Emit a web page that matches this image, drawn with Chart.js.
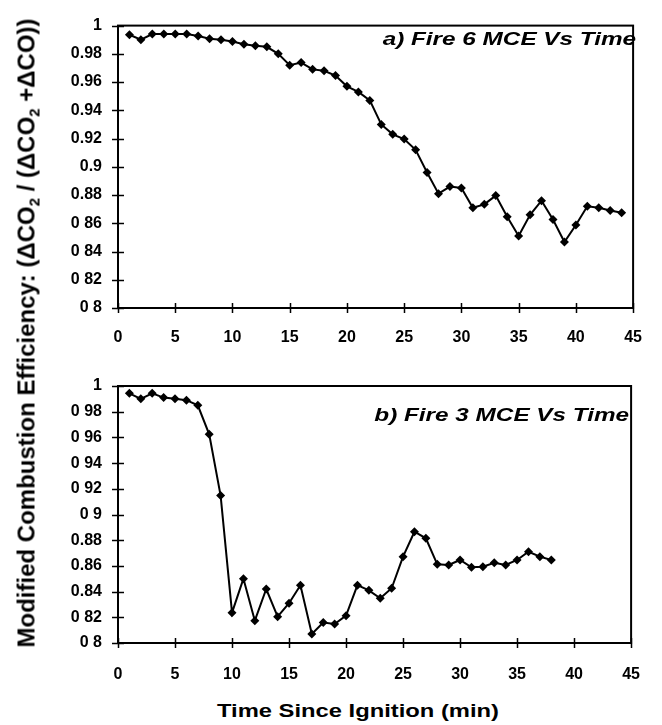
<!DOCTYPE html>
<html>
<head>
<meta charset="utf-8">
<script src="https://cdn.jsdelivr.net/npm/chart.js@4.4.1/dist/chart.umd.min.js"></script>
<style>
  html, body { margin: 0; padding: 0; background: #fff; }
  #wrap { position: relative; width: 662px; height: 725px; overflow: hidden; background: #fff; }
  canvas { position: absolute; left: 0; }
  #c1 { top: 0; }
  #c2 { top: 360px; }
  #ytitle {
    position: absolute; left: 27.5px; top: 333px;
    transform: translate(-50%, -50%) rotate(-90deg);
    white-space: nowrap; font: bold 24px "Liberation Sans", Arial, sans-serif;
    line-height: 24px; color: #000;
  }
  #ytitle span.sub { font-size: 15px; position: relative; top: 5px; }
  #xtitle {
    position: absolute; left: 158px; width: 400px; top: 702px; text-align: center;
    transform: scaleX(1.32); transform-origin: center;
    white-space: nowrap; font: bold 18px "Liberation Sans", Arial, sans-serif;
    line-height: 18px; color: #000;
  }
</style>
</head>
<body>
<div id="wrap">
  <canvas id="c1" width="662" height="345"></canvas>
  <canvas id="c2" width="662" height="320"></canvas>
  <div id="ytitle">Modified Combustion Efficiency: (ΔCO<span class="sub">2</span> / (ΔCO<span class="sub">2</span> +ΔCO))</div>
  <div id="xtitle">Time Since Ignition (min)</div>
</div>
<script>
// ---- data ----
const fire6Time = [1,2,3,4,5,6,7,8,9,10,11,12,13,14,15,16,17,18,19,20,21,22,23,24,25,26,27,28,29,30,31,32,33,34,35,36,37,38,39,40,41,42,43,44];
const fire6MCE = [0.9935,0.990,0.994,0.994,0.994,0.994,0.9926,0.9907,0.990,0.9887,0.9868,0.9857,0.985,0.980,0.972,0.9738,0.969,0.968,0.9646,0.957,0.953,0.947,0.930,0.923,0.9197,0.912,0.896,0.881,0.886,0.885,0.871,0.8734,0.8796,0.8646,0.851,0.866,0.876,0.8627,0.8467,0.8588,0.872,0.871,0.869,0.8674];
const fire3Time = [1,2,3,4,5,6,7,8,9,10,11,12,13,14,15,16,17,18,19,20,21,22,23,24,25,26,27,28,29,30,31,32,33,34,35,36,37,38];
const fire3MCE = [0.9943,0.990,0.9943,0.991,0.990,0.989,0.985,0.9624,0.9147,0.8236,0.850,0.8174,0.842,0.8205,0.831,0.845,0.807,0.816,0.8148,0.8213,0.845,0.841,0.8348,0.8426,0.8672,0.8866,0.8815,0.8612,0.8607,0.8646,0.8589,0.8594,0.8625,0.8607,0.8646,0.871,0.8672,0.8646];
const xTickLabels = ['0','5','10','15','20','25','30','35','40','45'];
const yTickLabelsA = ['0 8','0 82','0 84','0 86','0.88','0.9','0.92','0.94','0.96','0.98','1'];
const yTickLabelsB = ['0 8','0 82','0.84','0.86','0.88','0 9','0 92','0 94','0 96','0 98','1'];
const panelTitleA = 'a) Fire 6 MCE Vs Time';
const panelTitleB = 'b) Fire 3 MCE Vs Time';

const FONT = '"Liberation Sans", Arial, sans-serif';

const framePlugin = {
  id: 'frame',
  afterDraw(chart, args, opts) {
    const ctx = chart.ctx, a = chart.chartArea;
    const xs = chart.scales.x, ys = chart.scales.y;
    ctx.save();
    ctx.strokeStyle = '#000';
    ctx.lineWidth = 2;
    ctx.strokeRect(a.left, a.top, a.right - a.left, a.bottom - a.top);
    ctx.lineWidth = 1.5;
    ctx.beginPath();
    ys.ticks.forEach(t => {
      const y = Math.round(ys.getPixelForValue(t.value)) + 0.5;
      ctx.moveTo(a.left - 6, y); ctx.lineTo(a.left + 6, y);
    });
    xs.ticks.forEach(t => {
      const x = Math.round(xs.getPixelForValue(t.value)) + 0.5;
      ctx.moveTo(x, a.bottom - 5); ctx.lineTo(x, a.bottom + 5);
    });
    ctx.stroke();
    // panel label
    ctx.fillStyle = '#000';
    ctx.font = 'italic bold 18px ' + FONT;
    ctx.textAlign = 'right';
    ctx.textBaseline = 'alphabetic';
    ctx.translate(a.right - opts.dx, opts.baseline);
    ctx.scale(1.35, 1);
    ctx.fillText(opts.text, 0, 0);
    ctx.restore();
  }
};

function makeChart(id, times, values, yLabels, labelText, top, xPad, labelDx, labelBaseline) {
  const ctx = document.getElementById(id).getContext('2d');
  return new Chart(ctx, {
    type: 'line',
    data: {
      datasets: [{
        data: times.map((t, i) => ({ x: t, y: values[i] })),
        borderColor: '#000',
        backgroundColor: '#000',
        borderWidth: 2,
        pointStyle: 'rectRot',
        pointRadius: 4.5,
        pointBorderWidth: 0,
        pointBackgroundColor: '#000',
        tension: 0,
        fill: false,
        clip: false
      }]
    },
    options: {
      responsive: false,
      animation: false,
      devicePixelRatio: 1,
      events: [],
      layout: { padding: { left: 0, right: 20, top: top, bottom: 0 } },
      plugins: {
        legend: { display: false },
        tooltip: { enabled: false },
        frame: { text: labelText, dx: labelDx, baseline: labelBaseline }
      },
      scales: {
        x: {
          type: 'linear', min: 0, max: 45,
          grid: { display: false, drawTicks: false },
          border: { display: false },
          ticks: {
            stepSize: 5, padding: xPad, color: '#000',
            font: { family: FONT, size: 16, weight: 'bold' },
            maxRotation: 0,
            callback: (v, i) => xTickLabels[i]
          },
          afterFit: s => { s.height = 37; }
        },
        y: {
          type: 'linear', min: 0.8, max: 1,
          grid: { display: false, drawTicks: false },
          border: { display: false },
          ticks: {
            stepSize: 0.02, padding: 16, color: '#000',
            font: { family: FONT, size: 16, weight: 'bold' },
            callback: (v, i) => yLabels[i]
          },
          afterFit: s => { s.width = 118; }
        }
      }
    },
    plugins: [framePlugin]
  });
}

makeChart('c1', fire6Time, fire6MCE, yTickLabelsA, panelTitleA, 20, 20, -3, 45);
makeChart('c2', fire3Time, fire3MCE, yTickLabelsB, panelTitleB, 26, 22, 2, 61);
</script>
</body>
</html>
